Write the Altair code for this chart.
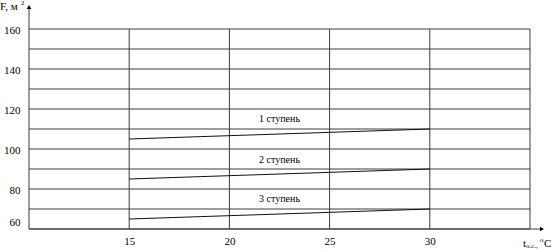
import altair as alt
import pandas as pd

# Data
stages = ["1 ступень", "2 ступень", "3 ступень"]
t_start = [15, 15, 15]
t_end = [30, 30, 30]
F_start = [105, 85, 65]
F_end = [110, 90, 70]
label_t = [22.5, 22.5, 22.5]
label_F = [115, 94.5, 75]

x_ticks = [15, 20, 25, 30, 35]
x_labels = [15, 20, 25, 30]
y_ticks = [60, 70, 80, 90, 100, 110, 120, 130, 140, 150, 160]
y_labels = [60, 80, 100, 120, 140, 160]

FONT = "'Liberation Serif', 'Times New Roman', serif"
GRID = "#3c3c3c"

rows = []
for s, t0, t1, f0, f1 in zip(stages, t_start, t_end, F_start, F_end):
    rows.append({"stage": s, "t": t0, "F": f0})
    rows.append({"stage": s, "t": t1, "F": f1})
lines_df = pd.DataFrame(rows)
labels_df = pd.DataFrame({"stage": stages, "t": label_t, "F": label_F})

xs = alt.Scale(domain=[10, 35], nice=False, zero=False)
ys = alt.Scale(domain=[60, 160], nice=False, zero=False)

x_axis = alt.Axis(values=x_labels, grid=False, domain=False, ticks=False, title=None,
                  labelOverlap=False, labelPadding=6, labelFont=FONT, labelFontSize=11,
                  labelColor="#000")
y_axis = alt.Axis(values=y_labels, grid=False, domain=False, ticks=False, title=None,
                  labelOverlap=False, labelPadding=9, labelFont=FONT, labelFontSize=11,
                  labelColor="#000",
                  labelOffset={"condition": {"test": "datum.value == 60", "value": -7}, "value": 1})

hgrid = alt.Chart(pd.DataFrame({"F": y_ticks})).mark_rule(color=GRID, strokeWidth=1).encode(
    y=alt.Y("F:Q", scale=ys, axis=y_axis), x=alt.value(0), x2=alt.value(501))
vgrid = alt.Chart(pd.DataFrame({"t": x_ticks})).mark_rule(color=GRID, strokeWidth=1).encode(
    x=alt.X("t:Q", scale=xs, axis=x_axis), y=alt.value(0), y2=alt.value(200))

lines = alt.Chart(lines_df).mark_line(color="#111", strokeWidth=1).encode(
    x=alt.X("t:Q", scale=xs, axis=x_axis),
    y=alt.Y("F:Q", scale=ys, axis=y_axis),
    detail="stage:N",
)

labels = alt.Chart(labels_df).mark_text(font=FONT, fontSize=10, color="#000").encode(
    x=alt.X("t:Q", scale=xs, axis=x_axis),
    y=alt.Y("F:Q", scale=ys, axis=y_axis),
    text="stage:N",
)

deco_df = pd.DataFrame({"k": [0]})
base = alt.Chart(deco_df)

y_ext = base.mark_rule(color=GRID, strokeWidth=1).encode(
    x=alt.value(0), y=alt.value(-21), y2=alt.value(200))
x_ext = base.mark_rule(color=GRID, strokeWidth=1).encode(
    x=alt.value(0), x2=alt.value(512), y=alt.value(200))
y_arrow = base.mark_point(shape="triangle-up", filled=True, color="#000", size=22, opacity=1).encode(
    x=alt.value(0), y=alt.value(-22))
x_arrow = base.mark_point(shape="triangle-right", filled=True, color="#000", size=22, opacity=1).encode(
    x=alt.value(513), y=alt.value(200))

def txt(s, x, y, size=11, align="left"):
    return base.mark_text(text=s, font=FONT, fontSize=size, color="#000", align=align,
                          baseline="middle").encode(x=alt.value(x), y=alt.value(y))

titles = [
    txt("F, м", -29, -22),
    txt("2", -8, -26, size=7),
    txt("t", 494, 215, size=11),
    txt("о.с.,", 497, 217, size=7),
    txt("o", 511, 211, size=7),
    txt("C", 515, 215, size=11),
]

chart = alt.layer(hgrid, vgrid, lines, labels, y_ext, x_ext, y_arrow, x_arrow, *titles).properties(
    width=501, height=200,
    autosize=alt.AutoSizeParams(type="none"),
    padding={"left": 29, "top": 29, "right": 22, "bottom": 23},
    background="white",
).configure_view(stroke=None).configure_axis(labelOverlap=False)

chart.save("out.html", embed_options={"renderer": "svg", "actions": False})
